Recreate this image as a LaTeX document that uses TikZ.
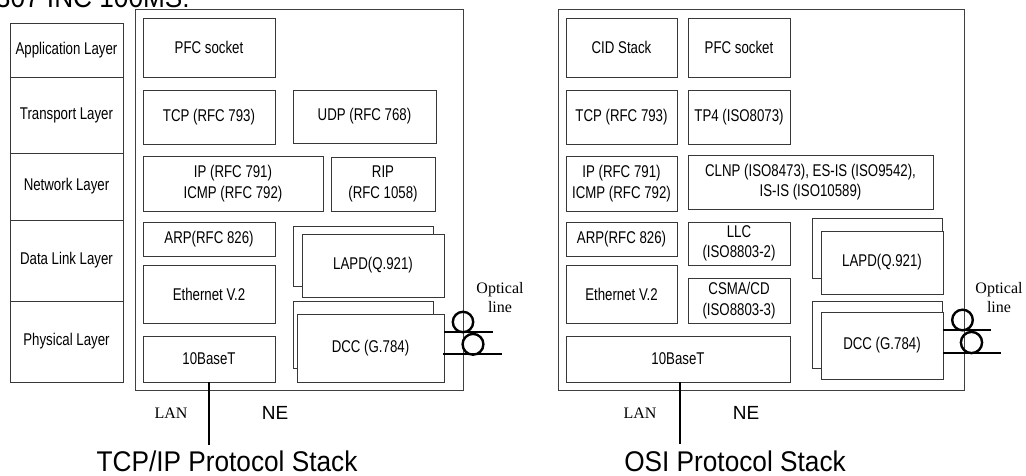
\documentclass[tikz,border=0pt]{standalone}
\usepackage{fontspec}
\setmainfont{Liberation Serif}
\setsansfont{Liberation Sans}
\newfontfamily\condsans[FakeStretch=0.78]{Liberation Sans}
\newfontfamily\capsans[FakeStretch=0.92]{Liberation Sans}
\newfontfamily\plainsans{Liberation Sans}
\newfontfamily\plainserif{Liberation Serif}

% box given by its two corners (x1,y1) and (x2,y2), in px
\newcommand{\pbox}[7][]{%
  \node[pbox,#1,minimum width={#4-#2},minimum height={#5-#3}]
    (#6) at ({(#2+#4)/2},{(#3+#5)/2}) {#7};}

\begin{document}
\begin{tikzpicture}[x=1pt,y=-1pt,
  pbox/.style={draw=black!78,line width=0.9pt,fill=white,inner sep=0pt,
    align=center,font={\condsans\fontsize{17}{20.5}\selectfont}},
  nebox/.style={draw=black!75,line width=1pt},
  fibre/.style={line width=2.8pt,black},
  coil/.style={line width=2.4pt,black},
  lanline/.style={line width=2.8pt,black},
  serifnote/.style={font={\plainserif\fontsize{16}{19}\selectfont},align=center,inner sep=0pt},
  netext/.style={font={\plainsans\fontsize{19}{22}\selectfont},inner sep=0pt},
  caption/.style={font={\capsans\fontsize{28.5}{32}\selectfont},inner sep=0pt}]
\useasboundingbox (0,0) rectangle (1026,476);
\clip (0,0) rectangle (1026,476);

% heading line, cut at the top edge
\node[caption,anchor=base east] (head) at (190,7.5) {307 INC 100MS:};

% ---------------- TCP/IP stack ----------------
% layer column
\pbox{10}{23}{123}{77}{lapp}{Application Layer}
\pbox{10}{77}{123}{153}{ltra}{Transport Layer}
\pbox{10}{153}{123}{220}{lnet}{Network Layer}
\pbox{10}{220}{123}{301}{ldl}{Data Link Layer}
\pbox{10}{301}{123}{382}{lphy}{Physical Layer}

% network element
\draw[nebox] (135,10) rectangle (463,390);

\pbox{143}{18}{275}{77}{pfcA}{PFC socket}
\pbox{143}{90}{275}{144}{tcpA}{TCP (RFC 793)}
\pbox{293}{90}{436}{143}{udpA}{UDP (RFC 768)}
\pbox{143}{156}{323}{211}{ipA}{IP (RFC 791)\\ICMP (RFC 792)}
\pbox{331}{157}{435}{211}{ripA}{RIP\\(RFC 1058)}
\pbox{143}{222}{275}{256}{arpA}{ARP(RFC 826)}
\pbox{143}{265}{275}{323}{ethA}{Ethernet V.2}
\pbox{143}{336}{275}{382}{tbtA}{10BaseT}
\pbox{293}{226}{433}{286}{lapdbackA}{}
\pbox{302}{234}{444}{297}{lapdA}{LAPD(Q.921)}
\pbox{293}{301}{433}{368}{dccbackA}{}
\pbox{297}{314}{444}{382}{dccA}{DCC (G.784)}

% optical line with coils
\coordinate (fA1) at (493,332);
\coordinate (fA2) at (502,354);
\draw[fibre] (dccA.east |- fA1) -- (fA1);
\draw[fibre] ([xshift=-1pt]dccA.east |- fA2) -- (fA2);
\draw[coil] (463,322) circle (10.2);
\draw[coil] (473,344.3) circle (10.4);
\node[serifnote] (optA) at (500,298) {Optical\\line};

% LAN attachment
\coordinate (lanA) at (tbtA.south |- 0,445);
\draw[lanline] (tbtA.south) -- (lanA);
\node[serifnote] (lanlabA) at (171,413) {LAN};
\node[netext] (nelabA) at (275,413) {NE};
\node[caption,anchor=base] (capA) at (227,471.5) {TCP/IP Protocol Stack};

% ---------------- OSI stack ----------------
\draw[nebox] (558,10) rectangle (964,390);

\pbox{566}{18}{677}{77}{cidB}{CID Stack}
\pbox{688}{18}{790}{77}{pfcB}{PFC socket}
\pbox{566}{90}{677}{144}{tcpB}{TCP (RFC 793)}
\pbox{688}{90}{790}{144}{tpB}{TP4 (ISO8073)}
\pbox{566}{156}{677}{211}{ipB}{IP (RFC 791)\\ICMP (RFC 792)}
\pbox{688}{155}{933}{209}{clnpB}{CLNP (ISO8473), ES-IS (ISO9542),\\IS-IS (ISO10589)}
\pbox{566}{222}{677}{256}{arpB}{ARP(RFC 826)}
\pbox{688}{222}{790}{265}{llcB}{LLC\\(ISO8803-2)}
\pbox{566}{265}{677}{323}{ethB}{Ethernet V.2}
\pbox{688}{278}{790}{323}{csmaB}{CSMA/CD\\(ISO8803-3)}
\pbox{566}{336}{790}{382}{tbtB}{10BaseT}
\pbox{812}{218}{942}{278}{lapdbackB}{}
\pbox{821}{231}{943}{294}{lapdB}{LAPD(Q.921)}
\pbox{812}{301}{942}{368}{dccbackB}{}
\pbox{821}{312}{943}{379}{dccB}{DCC (G.784)}

% optical line with coils
\coordinate (fB1) at (991,330);
\coordinate (fB2) at (1001,353);
\draw[fibre] (dccB.east |- fB1) -- (fB1);
\draw[fibre] (dccB.east |- fB2) -- (fB2);
\draw[coil] (962.5,320) circle (10.3);
\draw[coil] (971.5,342.5) circle (10.6);
\node[serifnote] (optB) at (999,298) {Optical\\line};

% LAN attachment
\coordinate (lanB) at (680,444);
\draw[lanline] (tbtB.south -| lanB) -- (lanB);
\node[serifnote] (lanlabB) at (640,413) {LAN};
\node[netext] (nelabB) at (746,413) {NE};
\node[caption,anchor=base] (capB) at (735,471.5) {OSI Protocol Stack};
\end{tikzpicture}
\end{document}
